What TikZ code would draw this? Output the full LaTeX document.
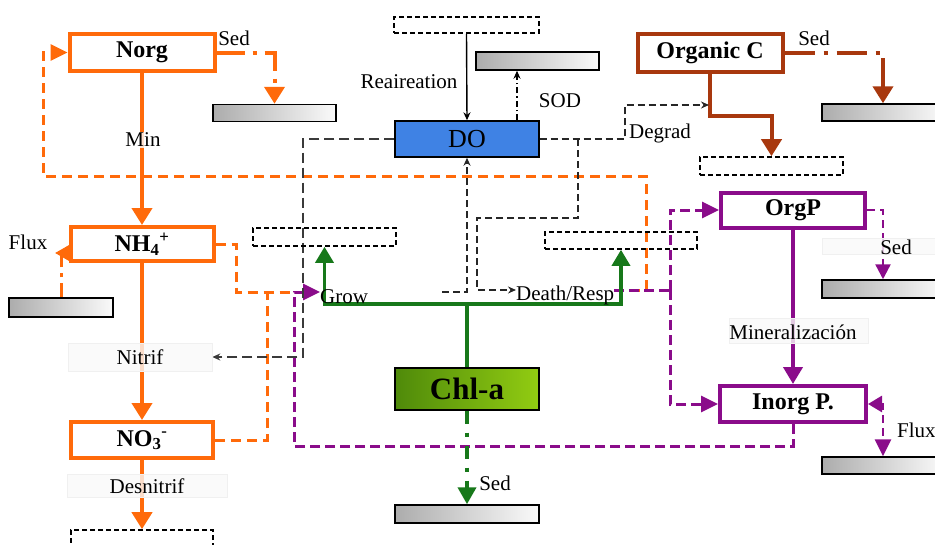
\documentclass[tikz,border=0pt]{standalone}
\usepackage{fontspec}
\setmainfont{Liberation Serif}
\usetikzlibrary{arrows.meta}
\definecolor{nOrange}{HTML}{FF6A0A}
\definecolor{nBrown}{HTML}{A8380E}
\definecolor{nPurple}{HTML}{8A0C8A}
\definecolor{nGreen}{HTML}{17781A}
\definecolor{doBlue}{HTML}{3F82E4}
\definecolor{chlDark}{HTML}{4F8A0A}
\definecolor{chlLight}{HTML}{92CC12}
\definecolor{kGray}{HTML}{3A3A3A}
\pgfdeclarelayer{edges}
\pgfsetlayers{edges,main}

\begin{document}
\begin{tikzpicture}[x=1pt,y=-1pt,
  box/.style={draw, line width=4pt, fill=white, inner sep=0pt,
    font=\fontsize{24}{26}\selectfont\bfseries},
  obox/.style={box, draw=nOrange},
  bbox/.style={box, draw=nBrown},
  pbox/.style={box, draw=nPurple},
  dbox/.style={draw, line width=1.6pt, dash pattern=on 5pt off 3pt, inner sep=0pt},
  sbar/.style={draw, line width=1.5pt, left color=gray!65, right color=gray!4, inner sep=0pt},
  lbl/.style={font=\fontsize{21}{23}\selectfont, inner sep=0pt},
  tag/.style={fill=gray!5, draw=gray!12, line width=0.6pt, fill opacity=0.8,
    text opacity=1, inner sep=0pt},
  bigtip/.style={-{Triangle[width=20pt,length=17pt]}},
  midtip/.style={-{Triangle[width=16pt,length=17pt]}},
  smalltip/.style={-{Stealth[width=7pt,length=8pt]}},
  oline/.style={nOrange, line width=4pt},
  odash/.style={nOrange, line width=3pt, dash pattern=on 10pt off 6pt},
  pdash/.style={nPurple, line width=3pt, dash pattern=on 10pt off 5pt},
  kdash/.style={black!85, line width=1.5pt, dash pattern=on 7pt off 4pt},
  kdashbold/.style={kGray, line width=2.6pt, dash pattern=on 10pt off 5pt},
]
\useasboundingbox (0,0) rectangle (935,544);
\clip (0,0) rectangle (935,544);

% ---- nitrogen column ----
\node[obox, minimum width=145pt, minimum height=37pt] (norg) at (142,52.5) {Norg};
\node[obox, minimum width=143pt, minimum height=34pt] (nh4) at (142,244)
  {NH\textsubscript{4}\textsuperscript{+}};
\node[obox, minimum width=142pt, minimum height=36pt] (no3) at (142,440)
  {NO\textsubscript{3}\textsuperscript{-}};
\node[dbox, minimum width=142pt, minimum height=28pt] (dnbox) at (142,544) {};
\node[sbar, minimum width=123pt, minimum height=17pt] (norgbar) at (274.5,113) {};
\node[sbar, minimum width=104pt, minimum height=19pt] (nh4bar) at (61,307.5) {};
\node[tag, lbl, minimum width=144pt, minimum height=28pt] (nitrif) at (140,357) {Nitrif};
\node[tag, lbl, minimum width=160pt, minimum height=23pt] (desn) at (147,486) {Desnitrif};
\node[lbl, fill=white, fill opacity=0.8, text opacity=1, inner sep=1pt] (min) at (143,140) {Min};
\node[lbl] (sedn) at (234,38) {Sed};
\node[lbl] (fluxn) at (28,242) {Flux};

% ---- oxygen ----
\node[draw, line width=1.4pt, fill=doBlue, inner sep=0pt, minimum width=144pt,
  minimum height=36pt, font=\fontsize{26}{28}\selectfont] (do) at (467,139) {DO};
\node[dbox, minimum width=145pt, minimum height=16pt] (reabox) at (466.5,25) {};
\node[sbar, minimum width=123pt, minimum height=18pt] (sodbar) at (537.5,61) {};
\node[lbl] (rea) at (409,82) {Reaireation};
\node[lbl] (sod) at (560,101) {SOD};
\node[lbl] (degrad) at (660,133) {Degrad};

% ---- algae ----
\node[draw, line width=1.4pt, left color=chlDark, right color=chlLight, inner sep=0pt,
  minimum width=144pt, minimum height=42pt, font=\fontsize{31}{33}\selectfont\bfseries]
  (chla) at (467,389) {Chl-a};
\node[sbar, minimum width=144pt, minimum height=18pt] (chlbar) at (467,514) {};
\node[dbox, minimum width=143pt, minimum height=18pt] (growbox) at (324.5,237) {};
\node[dbox, minimum width=152pt, minimum height=17pt] (deathbox) at (621,240.5) {};
\node[lbl, anchor=west] (grow) at (320,297) {Grow};
\node[lbl, anchor=west] (death) at (516,295) {Death/Resp};
\node[lbl] (sedc) at (495,483) {Sed};

% ---- carbon ----
\node[bbox, minimum width=145pt, minimum height=38pt] (orgc) at (710,52.5) {Organic C};
\node[dbox, minimum width=143pt, minimum height=18pt] (cbox) at (771.5,166) {};
\node[sbar, minimum width=122pt, minimum height=17pt] (orgcbar) at (883,112.5) {};
\node[lbl] (sedo) at (814,38) {Sed};

% ---- phosphorus ----
\node[pbox, minimum width=144pt, minimum height=35pt] (orgp) at (793,210) {OrgP};
\node[pbox, minimum width=146pt, minimum height=36pt] (inorgp) at (793,404) {Inorg P.};
\node[sbar, minimum width=122pt, minimum height=18pt] (orgpbar) at (883,289) {};
\node[sbar, minimum width=122pt, minimum height=17pt] (inorgbar) at (883,465.5) {};
\node[tag, minimum width=122pt, minimum height=16pt] (sedtag) at (883,246) {};
\node[lbl] (sedp) at (896,247) {Sed};
\node[tag, minimum width=139pt, minimum height=25pt] (mintag) at (798.5,331) {};
\node[lbl] (minp) at (793,332) {Mineralización};
\node[lbl, anchor=west] (fluxp) at (897,430) {Flux};

% free ends of connectors
\coordinate (fluxL) at (55,253);
\coordinate (cjoin) at (709,105);
\coordinate (sodx) at (517,0);
\coordinate (dofeed) at (442,292);
\coordinate (gsplit) at (467,304);
\coordinate (dsplit) at (670,290);

\begin{pgfonlayer}{edges}
  % nitrogen transformations
  \draw[oline, bigtip] (norg.south) -- (nh4.north);
  \draw[oline, bigtip] (nh4.south) -- (no3.north);
  \draw[oline, bigtip] (no3.south) -- (dnbox.north);
  \draw[oline, dash pattern=on 28pt off 8pt on 4pt off 8pt, bigtip]
    (norg.east) -| (norgbar.north);
  \draw[nOrange, line width=3pt, -{Triangle[width=15pt,length=14pt]}]
    (nh4.west |- fluxL) -- (fluxL);
  \draw[nOrange, line width=3pt, dash pattern=on 14pt off 6pt on 4pt off 6pt]
    (nh4bar.north) -- (nh4bar.north |- fluxL);
  % death/respiration back to organic N
  \draw[odash, midtip] (death.east |- dsplit) -- (646,290) -- (646,176) -- (43,176)
    -- (43,52.5) -- (norg.west);
  % nutrient uptake by growth
  \draw[odash] (nh4.east) -- (236,244) -- (236,292) -- (305,292);
  \draw[odash] (no3.east) -- (267,440) -- (267,292);
  \draw[pdash, midtip] (inorgp.south) -- (793,446) -- (294,446) -- (294,292)
    -- (grow.west |- dofeed);

  % phosphorus
  \draw[nPurple, line width=4pt, -{Triangle[width=19pt,length=17pt]}]
    (orgp.south) -- (inorgp.north);
  \draw[pdash] (death.east |- dsplit) -- (dsplit);
  \draw[pdash, midtip] (dsplit) |- (orgp.west);
  \draw[pdash, midtip] (dsplit) |- (inorgp.west);
  \draw[nPurple, line width=2.4pt, dash pattern=on 8pt off 5pt,
    -{Triangle[width=15pt,length=15pt]}] (orgp.east) -| (orgpbar.north);
  \draw[nPurple, line width=2.8pt, dash pattern=on 8pt off 5pt,
    {Triangle[width=16pt,length=14pt]}-{Triangle[width=16pt,length=17pt]}]
    (inorgp.east) -| (inorgbar.north);

  % carbon
  \draw[nBrown, line width=4pt, bigtip] (orgc.south) -- ++(0,42) -| (cbox.north);
  \draw[nBrown, line width=4pt, dash pattern=on 30pt off 9pt on 4pt off 9pt, bigtip]
    (orgc.east) -| (orgcbar.north);

  % oxygen
  \draw[black, line width=1.4pt, smalltip] (reabox.south) -- (do.north);
  \draw[black, line width=1.6pt, dash pattern=on 6pt off 3pt on 1.5pt off 3pt, smalltip]
    (do.north -| sodx) -- (sodbar.south -| sodx);
  \draw[kdash, smalltip] (do.east) -- (625,139) -- (625,105) -- (cjoin);
  \draw[kdash, smalltip] (578,139) -- (578,218) -- (477,218) -- (477,290)
    -- (death.west |- dsplit);
  \draw[kdash, smalltip] (dofeed) -| (do.south);
  \draw[kdashbold, smalltip] (do.west) -- (303,139) -- (303,357) -- (nitrif.east);

  % algae
  \draw[nGreen, line width=3.5pt] (chla.north) -- (gsplit);
  \draw[nGreen, line width=3.5pt, -{Triangle[width=18pt,length=16pt]}]
    (gsplit) -| (growbox.south);
  \draw[nGreen, line width=3.5pt, -{Triangle[width=18pt,length=16pt]}]
    (gsplit) -| (deathbox.south);
  \draw[nGreen, line width=4pt, dash pattern=on 13pt off 9pt on 4pt off 9pt,
    -{Triangle[width=18pt,length=17pt]}] (chla.south) -- (chlbar.north);
\end{pgfonlayer}
\end{tikzpicture}
\end{document}
